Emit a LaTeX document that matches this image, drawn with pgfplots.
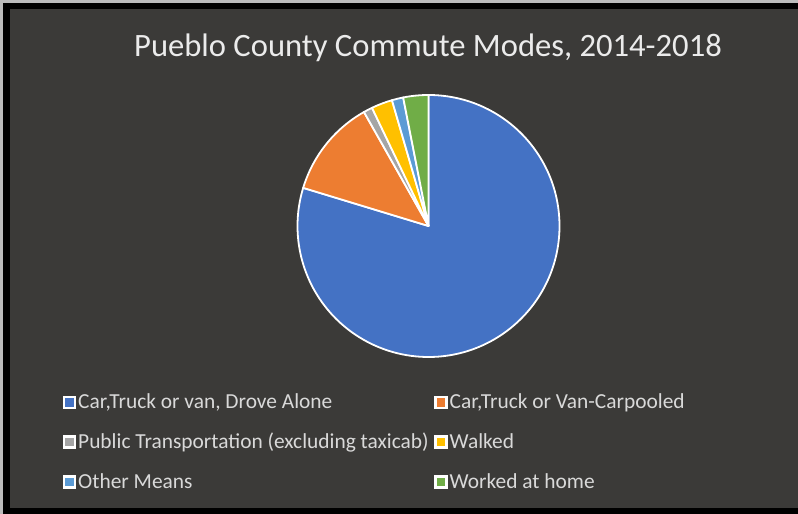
\documentclass[border=0pt]{standalone}
\usepackage{pgfplots}
\pgfplotsset{compat=1.18}
\usepackage{pgfplotstable}
\usepackage{fontspec}
\setmainfont{Carlito}
\definecolor{bgdark}{RGB}{59,58,56}
\definecolor{outergray}{RGB}{188,188,188}
\definecolor{cBlue}{RGB}{68,114,196}
\definecolor{cOrange}{RGB}{237,125,49}
\definecolor{cGray}{RGB}{165,165,165}
\definecolor{cYellow}{RGB}{255,192,0}
\definecolor{cLBlue}{RGB}{91,155,213}
\definecolor{cGreen}{RGB}{112,173,71}
\definecolor{txt}{RGB}{217,217,217}

% Commute mode shares (percent)
\pgfplotstableread{
mode value
DroveAlone 79.7
Carpooled 12.1
PublicTransport 1.1
Walked 2.6
OtherMeans 1.4
WorkedAtHome 3.1
}\commutedata

\pgfplotstablegetelem{0}{value}\of\commutedata\let\vA\pgfplotsretval
\pgfplotstablegetelem{1}{value}\of\commutedata\let\vB\pgfplotsretval
\pgfplotstablegetelem{2}{value}\of\commutedata\let\vC\pgfplotsretval
\pgfplotstablegetelem{3}{value}\of\commutedata\let\vD\pgfplotsretval
\pgfplotstablegetelem{4}{value}\of\commutedata\let\vE\pgfplotsretval
\pgfplotstablegetelem{5}{value}\of\commutedata\let\vF\pgfplotsretval
\pgfmathsetmacro\tot{\vA+\vB+\vC+\vD+\vE+\vF}
\pgfmathsetmacro\aA{90}
\pgfmathsetmacro\aB{\aA-(\vA/\tot)*360}
\pgfmathsetmacro\aC{\aB-(\vB/\tot)*360}
\pgfmathsetmacro\aD{\aC-(\vC/\tot)*360}
\pgfmathsetmacro\aE{\aD-(\vD/\tot)*360}
\pgfmathsetmacro\aF{\aE-(\vE/\tot)*360}
\pgfmathsetmacro\aG{\aF-(\vF/\tot)*360}

\begin{document}
\begin{tikzpicture}
\begin{axis}[scale only axis, width=798pt, height=514pt,
  xmin=0, xmax=798, ymin=0, ymax=514, hide axis, clip=false]
% frame and background
\fill[outergray] (axis cs:0,0) rectangle (axis cs:798,514);
\fill[black] (axis cs:3,0) rectangle (axis cs:798,511);
\fill[bgdark] (axis cs:10,6) rectangle (axis cs:798,505);
% title
\node[anchor=base, text=white!92!black, font=\fontsize{32.6}{38}\selectfont]
  at (axis cs:428,457) {Pueblo County Commute Modes, 2014-2018};
% pie sectors
\def\R{131pt}
\fill[cBlue, draw=white, line width=1.8pt, line join=round] (axis cs:428.5,288) -- ++(\aA:\R) arc[start angle=\aA, end angle=\aB, radius=\R] -- cycle;
\fill[cOrange, draw=white, line width=1.8pt, line join=round] (axis cs:428.5,288) -- ++(\aB:\R) arc[start angle=\aB, end angle=\aC, radius=\R] -- cycle;
\fill[cGray, draw=white, line width=1.8pt, line join=round] (axis cs:428.5,288) -- ++(\aC:\R) arc[start angle=\aC, end angle=\aD, radius=\R] -- cycle;
\fill[cYellow, draw=white, line width=1.8pt, line join=round] (axis cs:428.5,288) -- ++(\aD:\R) arc[start angle=\aD, end angle=\aE, radius=\R] -- cycle;
\fill[cLBlue, draw=white, line width=1.8pt, line join=round] (axis cs:428.5,288) -- ++(\aE:\R) arc[start angle=\aE, end angle=\aF, radius=\R] -- cycle;
\fill[cGreen, draw=white, line width=1.8pt, line join=round] (axis cs:428.5,288) -- ++(\aF:\R) arc[start angle=\aF, end angle=\aG, radius=\R] -- cycle;
% legend
\tikzset{lgm/.style={draw=white, line width=2.2pt, minimum size=11pt, inner sep=0pt},
         lgt/.style={anchor=base west, text=txt, font=\fontsize{21.4}{24}\selectfont, inner sep=0pt}}
\node[lgm, fill=cBlue]   at (axis cs:69.5,111.5) {};
\node[lgt] at (axis cs:78,105) {Car,Truck or van, Drove Alone};
\node[lgm, fill=cOrange] at (axis cs:441,111.5) {};
\node[lgt] at (axis cs:449.5,105) {Car,Truck or Van-Carpooled};
\node[lgm, fill=cGray]   at (axis cs:69.5,72) {};
\node[lgt] at (axis cs:78,65.5) {Public Transportation (excluding taxicab)};
\node[lgm, fill=cYellow] at (axis cs:441,72) {};
\node[lgt] at (axis cs:449.5,65.5) {Walked};
\node[lgm, fill=cLBlue]  at (axis cs:69.5,32) {};
\node[lgt] at (axis cs:78,25.5) {Other Means};
\node[lgm, fill=cGreen]  at (axis cs:441,32) {};
\node[lgt] at (axis cs:449.5,25.5) {Worked at home};
\end{axis}
\end{tikzpicture}
\end{document}
